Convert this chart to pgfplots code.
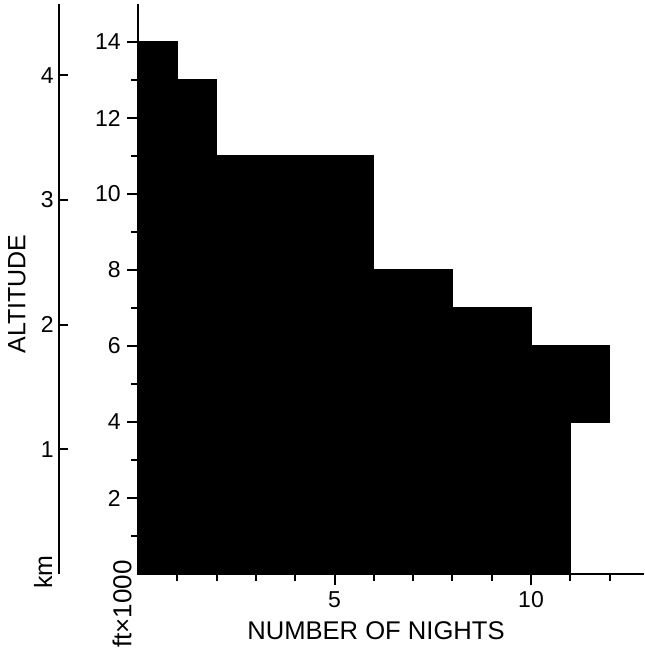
\documentclass[border=0pt]{standalone}
\usepackage{pgfplots}
\pgfplotsset{compat=1.18}
\usepackage{fontspec}
\setmainfont{Liberation Sans}

\begin{document}
\begin{tikzpicture}
\useasboundingbox (-69pt,-37pt) rectangle (253pt,287pt);

% altitude in km, same scale as the ft axis
\begin{axis}[
  at={(-39.5pt,0pt)}, anchor=south west,
  scale only axis, width=1pt, height=285pt,
  xmin=0, xmax=1, ymin=0, ymax=4.572,
  axis x line=none, axis y line=left,
  axis line style={-, line width=1pt},
  ytick={1,2,3,4},
  tick align=inside, major tick length=4.5pt,
  tick style={black, line width=1pt},
  /pgf/number format/assume math mode=true,
  yticklabel style={font=\fontsize{11.5}{13}\selectfont, anchor=east, inner sep=0pt, xshift=-2.5pt},
]
\end{axis}

\begin{axis}[
  at={(0pt,0pt)}, anchor=south west,
  scale only axis, width=252.9pt, height=285pt,
  xmin=0, xmax=12.87, ymin=0, ymax=15,
  axis x line=bottom, axis y line=left,
  axis line style={-, line width=1pt},
  xtick={5,10}, minor xtick={1,2,3,4,6,7,8,9,11,12},
  ytick={2,4,...,14}, minor ytick={1,3,...,13},
  tick align=outside, major tick length=5.5pt, minor tick length=3.5pt,
  tick style={black, line width=1pt},
  /pgf/number format/assume math mode=true,
  xticklabel style={font=\fontsize{11.5}{13}\selectfont, anchor=north, inner sep=0pt, yshift=-3pt},
  yticklabel style={font=\fontsize{11.5}{13}\selectfont, anchor=east, inner sep=0pt, xshift=-3pt},
  clip=false,
]
\addplot[fill=black, draw=black, line width=0.6pt] coordinates {
  (0,0) (11,0) (11,4) (12,4) (12,6) (10,6) (10,7) (8,7) (8,8)
  (6,8) (6,11) (2,11) (2,13) (1,13) (1,14) (0,14)
} -- cycle;
\end{axis}

\node[rotate=90, font=\fontsize{12.5}{14}\selectfont] at (-60.5pt,140pt) {ALTITUDE};
\node[rotate=90, font=\fontsize{12.5}{14}\selectfont] at (-47.5pt,1pt) {km};
\node[rotate=90, font=\fontsize{13}{14}\selectfont] at (-8pt,-15pt) {ft×1000};
\node[font=\fontsize{12.8}{14}\selectfont] at (119pt,-28.5pt) {NUMBER OF NIGHTS};
\end{tikzpicture}
\end{document}
